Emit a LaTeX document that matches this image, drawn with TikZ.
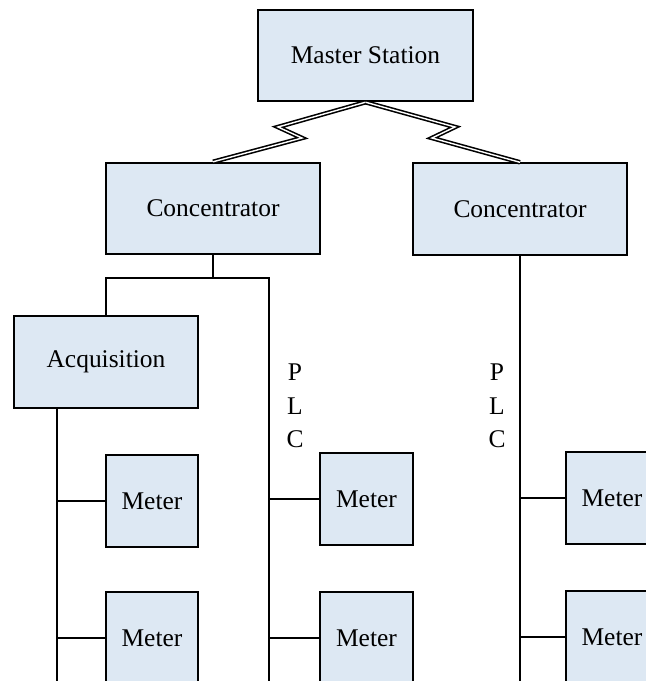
\documentclass[tikz,border=0pt]{standalone}
\usepackage{fontspec}
\setmainfont{Liberation Serif}
\usetikzlibrary{
	calc,
	positioning
}
\definecolor{boxfill}{RGB}{221,232,243}
\tikzset{
	box/.style={draw,fill=boxfill,line width=1.1pt,inner sep=0pt,font=\fontsize{14.5}{17}\selectfont},
	wide/.style={box,minimum width=4.29cm,minimum height=1.83cm},
	acqbox/.style={box,minimum width=3.68cm,minimum height=1.84cm},
	meterbox/.style={box,minimum width=1.85cm,minimum height=1.84cm},
	radio/.style={double,double distance=0.8pt,line width=0.9pt},
	plc/.style={align=center,inner sep=0pt,font=\fontsize{14.5}{19}\selectfont}
}
\newcommand{\tikzBox}[4][]{\node (#3) at #2 [#1]{#4};}

\begin{document}
\begin{tikzpicture}[x=0.02cm,y=-0.02cm,line width=1pt]
	\useasboundingbox (0,0) rectangle (646,681);
	\clip (0,0) rectangle (646,681);
	
	\tikzBox[wide]{(365.5,55.5)}{master}{Master Station};
	\tikzBox[wide]{(213,208.5)}{conc1}{Concentrator};
	\tikzBox[wide]{(520,209)}{conc2}{Concentrator};
	
	\draw[radio] (master.south) -- (278,127) -- (302,138) -- (conc1.north);
	\draw[radio] (master.south) -- (455,127) -- (432,138) -- (conc2.north);
	
	\tikzBox[acqbox]{(106,362)}{acq}{Acquisition};
	
	% buses
	\coordinate (j1) at (213,278);
	\coordinate (b1) at (57,408);
	\coordinate (b1end) at (57,695);
	\coordinate (b2end) at (269,695);
	\coordinate (b3end) at (520,695);
	
	\draw (conc1.south) -- (j1) -| (acq.north);
	\draw (j1) -| (b2end);
	\draw (b1) -- (b1end);
	\draw (conc2.south) -- (b3end);
	
	\node (plc1) at (295,406) [plc]{P\\L\\C};
	\node (plc2) at (497,406) [plc]{P\\L\\C};
	
	% meters
	\tikzBox[meterbox]{(152,501)}{m11}{Meter};
	\tikzBox[meterbox]{(152,638)}{m12}{Meter};
	\tikzBox[meterbox]{(366.5,499)}{m21}{Meter};
	\tikzBox[meterbox]{(366.5,638)}{m22}{Meter};
	\tikzBox[meterbox]{(612,498)}{m31}{Meter};
	\tikzBox[meterbox]{(612,637)}{m32}{Meter};
	
	\draw (m11.west) -- (m11.west -| b1);
	\draw (m12.west) -- (m12.west -| b1);
	\draw (m21.west) -- (m21.west -| b2end);
	\draw (m22.west) -- (m22.west -| b2end);
	\draw (m31.west) -- (m31.west -| b3end);
	\draw (m32.west) -- (m32.west -| b3end);
\end{tikzpicture}
\end{document}
